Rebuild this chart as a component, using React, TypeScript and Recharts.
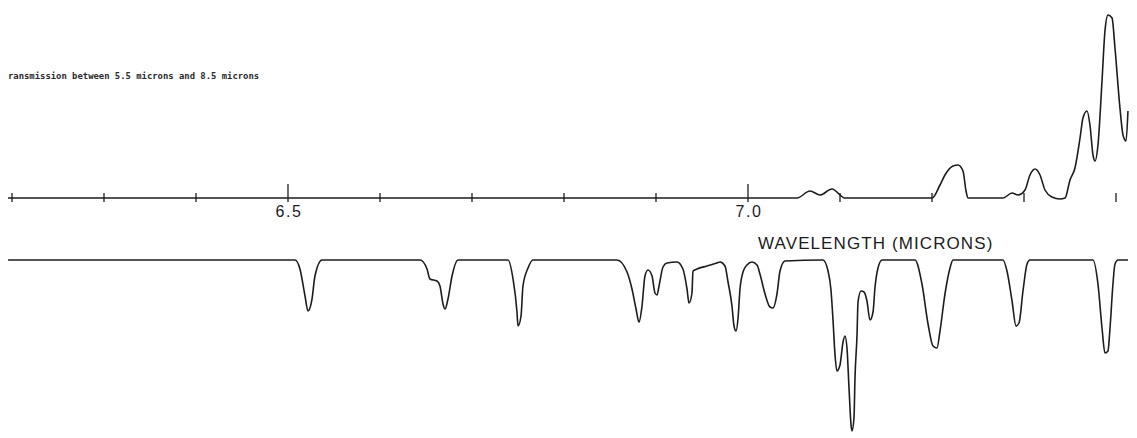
import React from 'react';
import { LineChart, Line, XAxis, YAxis } from 'recharts';

// Wavelength (microns) and trace heights
const upperWavelengths = [6.1957, 7.0533, 7.0674, 7.0783, 7.0913, 7.1054, 7.2000, 7.2087, 7.2141, 7.2228, 7.2283, 7.2337, 7.2370, 7.2391, 7.2772, 7.2870, 7.2935, 7.3011, 7.3065, 7.3120, 7.3174, 7.3228, 7.3304, 7.3391, 7.3446, 7.3500, 7.3554, 7.3609, 7.3641, 7.3685, 7.3717, 7.3750, 7.3772, 7.3804, 7.3848, 7.3880, 7.3913, 7.3957, 7.3989, 7.4043, 7.4076, 7.4109, 7.4130];
const upperHeights = [0, 0, 7, 3, 9, 0, 0, 13, 23, 32, 33, 27, 7, 0, 0, 5, 3, 8, 23, 29, 23, 8, 1, -1, 0, 18, 30, 60, 80, 87, 73, 43, 37, 53, 117, 167, 183, 180, 150, 90, 63, 57, 87];

const lowerWavelengths = [6.1957, 6.5076, 6.5130, 6.5185, 6.5217, 6.5261, 6.5293, 6.5370, 6.6435, 6.6511, 6.6543, 6.6620, 6.6652, 6.6685, 6.6707, 6.6739, 6.6783, 6.6848, 6.7391, 6.7446, 6.7489, 6.7500, 6.7533, 6.7554, 6.7609, 6.7663, 6.8576, 6.8685, 6.8739, 6.8783, 6.8815, 6.8848, 6.8880, 6.8913, 6.8957, 6.8989, 6.9011, 6.9033, 6.9076, 6.9120, 6.9228, 6.9293, 6.9337, 6.9359, 6.9391, 6.9402, 6.9446, 6.9554, 6.9663, 6.9696, 6.9750, 6.9783, 6.9826, 6.9848, 6.9870, 6.9891, 6.9913, 6.9946, 6.9989, 7.0043, 7.0098, 7.0130, 7.0185, 7.0239, 7.0272, 7.0315, 7.0348, 7.0402, 7.0815, 7.0870, 7.0902, 7.0924, 7.0946, 7.0967, 7.1000, 7.1033, 7.1054, 7.1076, 7.1098, 7.1120, 7.1130, 7.1152, 7.1163, 7.1185, 7.1196, 7.1228, 7.1261, 7.1293, 7.1326, 7.1359, 7.1380, 7.1413, 7.1457, 7.1815, 7.1891, 7.1957, 7.2011, 7.2054, 7.2087, 7.2141, 7.2196, 7.2228, 7.2772, 7.2815, 7.2870, 7.2913, 7.2946, 7.2989, 7.3033, 7.3065, 7.3750, 7.3804, 7.3848, 7.3880, 7.3913, 7.3935, 7.3967, 7.3989, 7.4022, 7.4130];
const lowerDepths = [0, 0, 9, 36, 51, 39, 16, 0, 0, 9, 19, 21, 26, 44, 49, 39, 16, 0, 0, 19, 52, 66, 56, 26, 8, 0, 0, 12, 29, 49, 62, 46, 16, 10, 16, 33, 35, 26, 7, 3, 2, 9, 29, 43, 33, 11, 9, 6, 3, 2, 6, 22, 46, 66, 71, 59, 29, 12, 5, 2, 5, 14, 34, 47, 48, 34, 11, 1, 0, 11, 30, 60, 95, 111, 105, 82, 76, 88, 128, 165, 171, 158, 118, 75, 42, 31, 32, 41, 60, 52, 28, 8, 0, 0, 24, 64, 86, 88, 71, 34, 8, 0, 0, 11, 41, 66, 63, 31, 4, 0, 0, 24, 68, 93, 91, 68, 24, 4, 0, 0];

const tickValues = [6.2, 6.3, 6.4, 6.5, 6.6, 6.7, 6.8, 6.9, 7.0, 7.1, 7.2, 7.3, 7.4];
const labeledTicks = ['6.5', '7.0'];

const titleText = 'ransmission between 5.5 microns and 8.5 microns';
const axisTitle = 'WAVELENGTH (MICRONS)';

const X_DOMAIN: [number, number] = [6.18696, 7.42283];
const INK = '#1c1c1c';

const upperData = upperWavelengths.map((w, i) => ({ w, v: upperHeights[i] }));
const lowerData = lowerWavelengths.map((w, i) => ({ w, v: lowerDepths[i] }));

const UpperTick = (props: any) => {
  const { x, y, payload } = props;
  const label = Number(payload.value).toFixed(1);
  const major = labeledTicks.includes(label);
  return (
    <g>
      <line x1={x} x2={x} y1={y} y2={y - (major ? 18 : 9)} stroke={INK} strokeWidth={1.3} />
      {major && (
        <text x={x + 1} y={y + 15} textAnchor="middle" fontSize={16} letterSpacing={1.5}
          fontFamily="'Liberation Sans', Arial, sans-serif" fill={INK}>
          {label}
        </text>
      )}
    </g>
  );
};

export default function App() {
  return (
    <div style={{ position: 'absolute', left: 0, top: 0, width: 1137, height: 438, background: '#fff', overflow: 'hidden' }}>
      <div style={{ position: 'absolute', left: 8, top: 70, fontFamily: "'DejaVu Sans Mono', monospace", fontSize: 8.9, fontWeight: 600, lineHeight: '12px', color: '#2a2a2a', whiteSpace: 'pre' }}>
        {titleText}
      </div>
      <div style={{ position: 'absolute', left: 0, top: 0 }}>
        <LineChart width={1137} height={240} margin={{ top: 0, right: 0, bottom: 0, left: 0 }}>
          <XAxis type="number" dataKey="w" domain={X_DOMAIN} allowDataOverflow ticks={tickValues}
            interval={0} axisLine={false} tickLine={false} tickSize={0} tickMargin={0} height={38} tick={<UpperTick />} />
          <YAxis hide width={0} domain={[-4, 198]} allowDataOverflow />
          <Line data={upperData} dataKey="v" type="monotone" stroke={INK} strokeWidth={1.6} dot={false} activeDot={false} isAnimationActive={false} />
        </LineChart>
      </div>
      <div style={{ position: 'absolute', left: 758, top: 235, fontFamily: "'Liberation Sans', Arial, sans-serif", fontSize: 17, letterSpacing: 1.1, lineHeight: '17px', color: INK, whiteSpace: 'pre' }}>
        {axisTitle}
      </div>
      <div style={{ position: 'absolute', left: 0, top: 257 }}>
        <LineChart width={1137} height={181} margin={{ top: 0, right: 0, bottom: 0, left: 0 }}>
          <XAxis type="number" dataKey="w" domain={X_DOMAIN} allowDataOverflow hide />
          <YAxis hide width={0} reversed domain={[-3, 178]} allowDataOverflow />
          <Line data={lowerData} dataKey="v" type="monotone" stroke={INK} strokeWidth={1.6} dot={false} activeDot={false} isAnimationActive={false} />
        </LineChart>
      </div>
    </div>
  );
}
